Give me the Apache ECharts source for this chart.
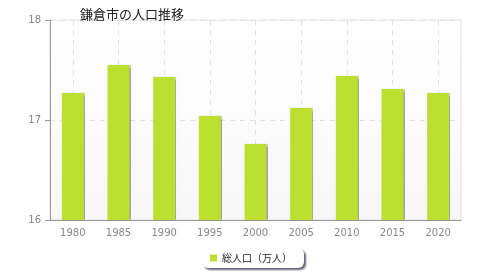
<!DOCTYPE html>
<html><head><meta charset="utf-8">
<script src="https://cdn.jsdelivr.net/npm/echarts@6/dist/echarts.min.js"></script>
<style>html,body{margin:0;padding:0;background:#fff;}#c{width:480px;height:280px;}</style>
</head><body><div id="c"></div>
<script>
var title = '鎌倉市の人口推移';
var seriesName = '総人口（万人）';
var categories = ['1980','1985','1990','1995','2000','2005','2010','2015','2020'];
var population = [17.27, 17.55, 17.43, 17.04, 16.76, 17.12, 17.44, 17.31, 17.27];
var yTicks = [16, 17, 18];

var chart = echarts.init(document.getElementById('c'), null, {renderer:'canvas'});
chart.setOption({
  animation:false,
  title:{text:title,left:75,top:3,textStyle:{fontSize:13,fontWeight:'normal',color:'#222',fontFamily:'"Noto Sans CJK JP", sans-serif'}},
  grid:{left:50,right:19,top:20,bottom:60,show:true,borderColor:'#e0e0e0',borderWidth:1,
    backgroundColor:{type:'linear',x:0,y:0,x2:0,y2:1,colorStops:[{offset:0,color:'#ffffff'},{offset:1,color:'#f7f7f7'}]}},
  legend:{data:[seriesName],bottom:12,left:202,itemWidth:7,itemHeight:7,itemGap:5,icon:'rect',
    padding:[5,12,5,8],backgroundColor:'#fff',borderRadius:6,borderWidth:0,
    shadowColor:'rgba(70,72,100,0.85)',shadowBlur:2,shadowOffsetX:2,shadowOffsetY:2,
    textStyle:{fontSize:10,color:'#222',fontFamily:'"Noto Sans CJK JP", sans-serif'}},
  xAxis:{type:'category',data:categories,boundaryGap:true,
    axisLine:{lineStyle:{color:'#999'}},
    axisTick:{alignWithLabel:true,length:5,lineStyle:{color:'#999'}},
    axisLabel:{color:'#888',fontSize:10,margin:8,fontFamily:'DejaVu Sans'},
    splitLine:{show:true,alignWithLabel:true,lineStyle:{color:'#e2e2e2',type:[5,5]}}},
  yAxis:{type:'value',min:16,max:18,interval:1,
    axisLine:{show:true,lineStyle:{color:'#999'}},
    axisTick:{show:true,length:5,lineStyle:{color:'#999'}},
    axisLabel:{color:'#888',fontSize:10,margin:9,fontFamily:'DejaVu Sans'},
    splitLine:{show:true,lineStyle:{color:'#e2e2e2',type:[5,5]}}},
  series:[{name:seriesName,type:'bar',data:population,barWidth:22,
    itemStyle:{color:'#bce02f',shadowColor:'rgba(0,0,0,0.35)',shadowOffsetX:1,shadowOffsetY:0,shadowBlur:1}}]
});
</script></body></html>
